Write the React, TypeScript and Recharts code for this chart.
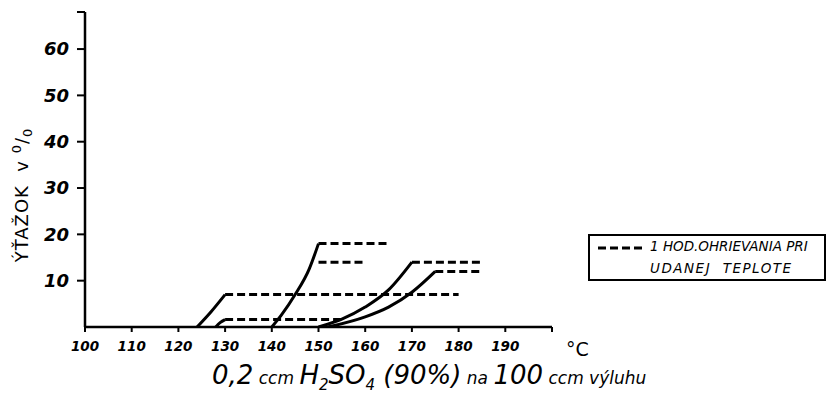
import React from "react";
import { ComposedChart, Line, XAxis, YAxis } from "recharts";

// teplota (°C) vs. výťažok (%)
const xTicks = [100, 110, 120, 130, 140, 150, 160, 170, 180, 190, 200];
const yTicks = [10, 20, 30, 40, 50, 60, 68];

const curveA = [
  { t: 124, v: 0 },
  { t: 127, v: 3.3 },
  { t: 130, v: 7 },
];
const curveB = [
  { t: 128, v: 0 },
  { t: 129, v: 1 },
  { t: 130, v: 1.6 },
];
const curveC = [
  { t: 140, v: 0 },
  { t: 142, v: 2.5 },
  { t: 145, v: 7 },
  { t: 148, v: 12.5 },
  { t: 150, v: 18 },
];
const curveD = [
  { t: 150, v: 0 },
  { t: 155, v: 1.7 },
  { t: 160, v: 4.3 },
  { t: 165, v: 8 },
  { t: 170, v: 14 },
];
const curveE = [
  { t: 152, v: 0 },
  { t: 160, v: 2.2 },
  { t: 165, v: 4.3 },
  { t: 170, v: 7.5 },
  { t: 175, v: 12 },
];

// 1 hod. ohrievania pri udanej teplote
const holdA = [
  { t: 130, v: 7 },
  { t: 180, v: 7 },
];
const holdB = [
  { t: 130, v: 1.6 },
  { t: 155, v: 1.6 },
];
const holdC1 = [
  { t: 150, v: 18 },
  { t: 165, v: 18 },
];
const holdC2 = [
  { t: 150, v: 14 },
  { t: 160, v: 14 },
];
const holdD = [
  { t: 170, v: 14 },
  { t: 185, v: 14 },
];
const holdE = [
  { t: 175, v: 12 },
  { t: 185, v: 12 },
];

const curves = [curveA, curveB, curveC, curveD, curveE];
const holds = [holdA, holdB, holdC1, holdC2, holdD, holdE];

const font = "'DejaVu Sans', sans-serif";

const App = () => {
  return (
    <div style={{ position: "absolute", left: 0, top: 0, width: 827, height: 399, background: "#fff" }}>
      <ComposedChart
        width={827}
        height={399}
        margin={{ top: 12, right: 275, left: 40, bottom: 42 }}
      >
        <XAxis
          type="number"
          dataKey="t"
          domain={[100, 200]}
          ticks={xTicks}
          tickFormatter={(t: number) => (t === 200 ? "" : String(t))}
          height={30}
          interval={0}
          allowDataOverflow
          axisLine={{ stroke: "#000", strokeWidth: 2.5 }}
          tickLine={{ stroke: "#000", strokeWidth: 2 }}
          tickSize={5}
          tick={{ fill: "#000", fontSize: 13.5, fontStyle: "italic", fontWeight: "bold", fontFamily: font, dy: 7 }}
        />
        <YAxis
          type="number"
          domain={[0, 68]}
          ticks={yTicks}
          tickFormatter={(v: number) => (v === 68 ? "" : String(v))}
          width={45}
          interval={0}
          allowDataOverflow
          axisLine={{ stroke: "#000", strokeWidth: 2.5 }}
          tickLine={{ stroke: "#000", strokeWidth: 2 }}
          tickSize={8}
          tick={{ fill: "#000", fontSize: 18, fontStyle: "italic", fontWeight: "bold", fontFamily: font, dx: -6 }}
        />
        {curves.map((d, i) => (
          <Line
            key={"c" + i}
            data={d}
            dataKey="v"
            type="monotone"
            stroke="#000"
            strokeWidth={3}
            dot={false}
            isAnimationActive={false}
          />
        ))}
        {holds.map((d, i) => (
          <Line
            key={"h" + i}
            data={d}
            dataKey="v"
            type="linear"
            stroke="#000"
            strokeWidth={3}
            strokeDasharray="8 4"
            dot={false}
            isAnimationActive={false}
          />
        ))}
      </ComposedChart>

      {/* y label */}
      <div
        style={{
          position: "absolute",
          left: 22,
          top: 195,
          transform: "translate(-50%, -50%) rotate(-90deg)",
          whiteSpace: "nowrap",
          fontFamily: font,
          fontSize: 18,
          letterSpacing: 1,
          color: "#000",
        }}
      >
        ÝŤAŽOK&nbsp; v <sup style={{ fontSize: 13 }}>0</sup>/<sub style={{ fontSize: 13 }}>0</sub>
      </div>

      {/* °C */}
      <div style={{ position: "absolute", left: 566, top: 338, fontFamily: font, fontSize: 19, color: "#000" }}>
        °C
      </div>

      {/* legend */}
      <div
        style={{
          position: "absolute",
          left: 588,
          top: 234,
          width: 238,
          height: 47,
          border: "2px solid #000",
          boxSizing: "border-box",
          fontFamily: font,
          fontStyle: "italic",
          fontSize: 13.5,
          color: "#000",
        }}
      >
        <svg width={48} height={10} style={{ position: "absolute", left: 8, top: 7 }}>
          <line x1={0} y1={5} x2={46} y2={5} stroke="#000" strokeWidth={3} strokeDasharray="8 4" />
        </svg>
        <div style={{ position: "absolute", left: 60, top: 2, whiteSpace: "nowrap" }}>1 HOD.OHRIEVANIA PRI</div>
        <div style={{ position: "absolute", left: 60, top: 24, whiteSpace: "nowrap", letterSpacing: 1.5 }}>
          UDANEJ&nbsp; TEPLOTE
        </div>
      </div>

      {/* x title */}
      <div
        style={{
          position: "absolute",
          left: 212,
          top: 360,
          whiteSpace: "nowrap",
          fontFamily: font,
          fontStyle: "italic",
          fontSize: 26,
          color: "#000",
        }}
      >
        0,2<span style={{ fontSize: 17 }}> ccm </span>H<sub style={{ fontSize: 15 }}>2</sub>SO
        <sub style={{ fontSize: 15 }}>4</sub> (90%)<span style={{ fontSize: 17 }}> na </span>100
        <span style={{ fontSize: 17 }}> ccm výluhu</span>
      </div>
    </div>
  );
};

export default App;
